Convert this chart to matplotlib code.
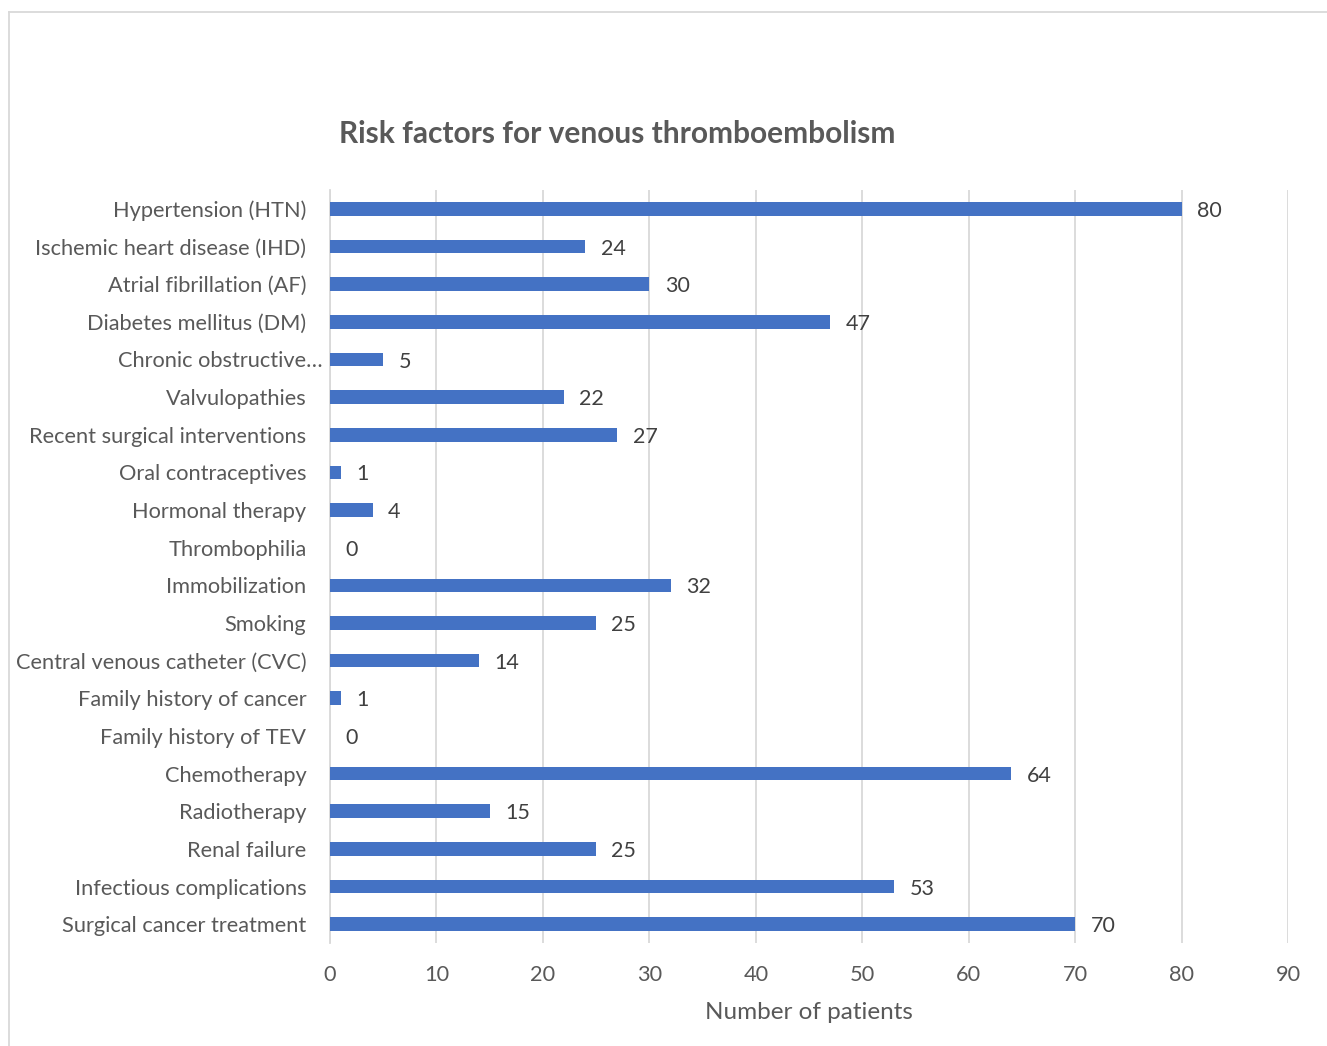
import matplotlib
matplotlib.use("Agg")
from matplotlib import pyplot as plt
from matplotlib.lines import Line2D
from matplotlib.transforms import ScaledTranslation

categories = [
    "Hypertension (HTN)",
    "Ischemic heart disease (IHD)",
    "Atrial fibrillation (AF)",
    "Diabetes mellitus (DM)",
    "Chronic obstructive\u2026",
    "Valvulopathies",
    "Recent surgical interventions",
    "Oral contraceptives",
    "Hormonal therapy",
    "Thrombophilia",
    "Immobilization",
    "Smoking",
    "Central venous catheter (CVC)",
    "Family history of cancer",
    "Family history of TEV",
    "Chemotherapy",
    "Radiotherapy",
    "Renal failure",
    "Infectious complications",
    "Surgical cancer treatment",
]
patients = [80, 24, 30, 47, 5, 22, 27, 1, 4, 0, 32, 25, 14, 1, 0, 64, 15, 25, 53, 70]
x_ticks = [0, 10, 20, 30, 40, 50, 60, 70, 80, 90]

plt.rcParams['font.family'] = ['Lato', 'DejaVu Sans']
text_color = "#595959"
bar_color = "#4472C4"

fig = plt.figure(figsize=(13.27, 10.46), dpi=100)
ax = fig.add_axes([330 / 1327, 1 - 943 / 1046, 958 / 1327, 753 / 1046])

ypos = list(range(len(categories)))
ax.barh(ypos, patients, height=0.36, color=bar_color, zorder=3)

for y, v in zip(ypos, patients):
    ax.annotate(str(v), (v, y), xytext=(11, -1.5), textcoords="offset points",
                va="center", ha="left", fontsize=15.5, color="#404040")

ax.set_xlim(0, 90)
ax.set_ylim(len(categories) - 0.5, -0.5)
ax.set_xticks(x_ticks)
ax.set_yticks(ypos)
ax.set_yticklabels(categories)
ax.tick_params(axis="both", length=0, labelsize=15.7, labelcolor=text_color)
ax.tick_params(axis="y", pad=17)
ax.tick_params(axis="x", pad=16)
ax.xaxis.grid(True, color="#d9d9d9", linewidth=1.3, zorder=0)

# the truncated label sits a bit further right, as in the original
lbl = ax.get_yticklabels()[4]
lbl.set_transform(lbl.get_transform() + ScaledTranslation(0.16, 0, fig.dpi_scale_trans))

for s in ["top", "right", "bottom"]:
    ax.spines[s].set_visible(False)
ax.spines["left"].set_color("#d9d9d9")
ax.spines["left"].set_linewidth(1.3)

ax.set_xlabel("Number of patients", fontsize=17.5, color=text_color, labelpad=12)
fig.text(617 / 1327, 1 - 134 / 1046, "Risk factors for venous thromboembolism",
         ha="center", va="center", fontsize=21.5, fontweight="bold", color=text_color)

# outer chart border
fig.add_artist(Line2D([9 / 1327, 9 / 1327], [0, 1 - 12 / 1046], transform=fig.transFigure,
                      color="#d9d9d9", linewidth=1.3))
fig.add_artist(Line2D([9 / 1327, 1], [1 - 12 / 1046, 1 - 12 / 1046], transform=fig.transFigure,
                      color="#d9d9d9", linewidth=1.3))

plt.savefig("out.png", dpi=100)
